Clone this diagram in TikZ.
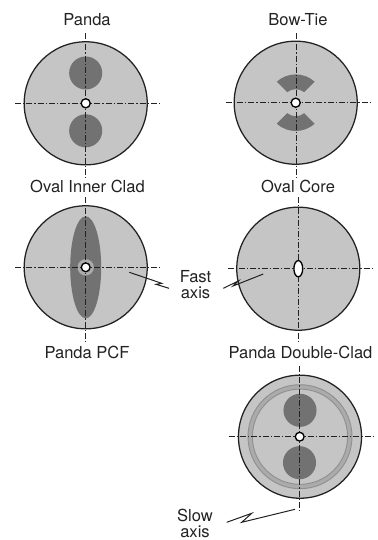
\documentclass[tikz,border=0pt]{standalone}
\usepackage{fontspec}
\usetikzlibrary{shapes.geometric,calc}
\setmainfont{TeX Gyre Heros}
\definecolor{clad}{HTML}{C5C5C5}
\definecolor{stress}{HTML}{727272}
\definecolor{ringc}{HTML}{ABABAB}
\definecolor{ringe}{HTML}{909090}
\definecolor{ink}{HTML}{222222}
\tikzset{
  x=0.75pt,y=-0.75pt,
  fiber/.style={circle,draw=ink,fill=clad,line width=0.95pt,minimum size=92.3pt,inner sep=0pt,outer sep=0pt},
  stressdisc/.style={circle,fill=stress,minimum size=24.8pt,inner sep=0pt},
  corecirc/.style={circle,draw=black,fill=white,line width=1pt,minimum size=6.6pt,inner sep=0pt},
  axisline/.style={draw=ink,line width=0.7pt,dash pattern=on 4.5pt off 1.5pt on 1pt off 1.5pt},
  lead/.style={draw=ink,line width=0.75pt,line join=miter},
  title/.style={font=\fontsize{12.4}{11.9}\selectfont,text=ink,inner sep=0pt,anchor=base},
}
\begin{document}
\begin{tikzpicture}
\useasboundingbox (0,0) rectangle (378,540);

% --- titles
\node[title] (t1) at (87,25) {Panda};
\node[title] (t2) at (298,25) {Bow-Tie};
\node[title] (t3) at (87.5,192.5) {Oval Inner Clad};
\node[title] (t4) at (298,192.5) {Oval Core};
\node[title] (t5) at (87,358) {Panda PCF};
\node[title] (t6) at (300.5,358) {Panda Double-Clad};
\node[title,align=center,anchor=center] (fast) at (195.5,284.5) {Fast\\axis};
\node[title] (slow) at (195,521.5) {Slow};
\node[title] (slowb) at (195,537.5) {axis};

% --- Panda
\node[fiber] (a) at (85.7,103.3) {};
\node[stressdisc] (a1) at (85.7,73) {};
\node[stressdisc] (a2) at (85.7,130.8) {};
\coordinate (aW) at (15,103.3); \coordinate (aE) at (160,103.3);
\coordinate (aN) at (85.7,33); \coordinate (aS) at (85.7,178);
\draw[axisline] (aW) -- (aE);
\draw[axisline] (aN) -- (aS);
\node[corecirc,minimum size=6.8pt] (ac) at (85.7,103.3) {};

% --- Bow-Tie
\node[fiber] (b) at (295.7,102.7) {};
\fill[stress] (295.7,102.7) ++(-48:28.3) arc[start angle=-48,end angle=-132,radius=28.3] -- ($(295.7,102.7)+(-129:13.5)$) arc[start angle=-129,end angle=-51,radius=13.5] -- cycle;
\fill[stress] (295.7,102.7) ++(48:28.3) arc[start angle=48,end angle=132,radius=28.3] -- ($(295.7,102.7)+(129:13.5)$) arc[start angle=129,end angle=51,radius=13.5] -- cycle;
\coordinate (bW) at (225.5,102.7); \coordinate (bE) at (370.5,102.7);
\coordinate (bN) at (296.3,33); \coordinate (bS) at (296.3,178);
\draw[axisline] (bW) -- (bE);
\draw[axisline] (bN) -- (bS);
\node[corecirc,minimum size=6.8pt] (bc) at (295.7,102.7) {};

% --- Oval Inner Clad
\node[fiber] (c) at (85.7,267.3) {};
\fill[stress] (85.7,267.3) ellipse[x radius=15.5,y radius=51];
\fill[ringc] (85.7,267.3) circle[radius=8.2];
\coordinate (cW) at (15,267.3); \coordinate (cE) at (160,267.3);
\coordinate (cN) at (85.7,197); \coordinate (cS) at (85.7,342);
\draw[axisline] (cW) -- (cE);
\draw[axisline] (cN) -- (cS);
\node[corecirc] (cc) at (85.7,267.3) {};

% --- Oval Core
\node[fiber] (d) at (298.3,268.7) {};
\coordinate (dW) at (227.5,268.7); \coordinate (dE) at (372.5,268.7);
\coordinate (dN) at (298.3,197); \coordinate (dS) at (298.3,343);
\draw[axisline] (dW) -- (dE);
\draw[axisline] (dN) -- (dS);
\node[draw=black,fill=white,line width=1pt,ellipse,minimum width=6.6pt,minimum height=12.2pt,inner sep=0pt] (dc) at (298.3,268.7) {};

% --- Panda Double-Clad
\node[fiber] (e) at (300,436.7) {};
\node[circle,fill=ringc,draw=ringe,line width=0.7pt,minimum size=78pt,inner sep=0pt] (er) at (300,436.7) {};
\node[circle,fill=clad,draw=ringe,line width=0.7pt,minimum size=71.4pt,inner sep=0pt] (ei) at (300,436.7) {};
\node[stressdisc] (e1) at (300,410.3) {};
\node[stressdisc] (e2) at (299.5,462.7) {};
\coordinate (eW) at (228.5,436.7); \coordinate (eE) at (375,436.7);
\coordinate (eN) at (299.5,366); \coordinate (eS) at (299.5,511);
\draw[axisline] (eW) -- (eE);
\draw[axisline] (eN) -- (eS);
\node[corecirc] (ec) at (299.7,436.7) {};

% --- leaders
\coordinate (f1) at (129.3,272.3); \coordinate (f2) at (161.7,283.3);
\coordinate (f3) at (156,284.3); \coordinate (f4) at (169,288.3);
\draw[lead] (f1) -- (f2) -- (f3) -- (f4);
\coordinate (g1) at (263.3,274); \coordinate (g2) at (233,286);
\coordinate (g3) at (238.3,281); \coordinate (g4) at (223.3,288.3);
\draw[lead] (g1) -- (g2) -- (g3) -- (g4);
\coordinate (s1) at (295,509.3); \coordinate (s2) at (241.7,522.3);
\coordinate (s3) at (251.7,513.3); \coordinate (s4) at (226.7,522.3);
\draw[lead] (s1) -- (s2) -- (s3) -- (s4);
\end{tikzpicture}
\end{document}
